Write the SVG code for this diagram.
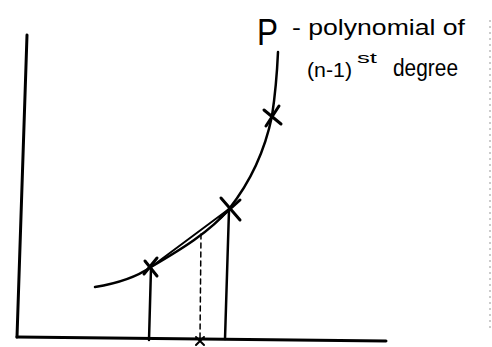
<svg xmlns="http://www.w3.org/2000/svg" width="492" height="347" viewBox="0 0 492 347">
<style>
.ln{fill:none;stroke:#000;stroke-linecap:round;stroke-linejoin:round}
.t{font-family:"Liberation Sans",Arial,sans-serif;fill:#000}
</style>
<rect width="492" height="347" fill="#fff"/>
<g id="axes">
<path class="ln" d="M27,35 L17,337" stroke-width="3"/>
<path class="ln" d="M17,337 L386,341" stroke-width="3"/>
</g>
<g id="curve">
<path class="ln" d="M95,287 C120,283 138,276 151,267 C180,250 210,232 229,209 C252,180 265,150 272,116 C275,96 277,75 278,52" stroke-width="2.5"/>
</g>
<g id="connectors">
<path class="ln" d="M151,267 L229,209" stroke-width="2"/>
<path class="ln" d="M151,268 L149,340" stroke-width="2.5"/>
<path class="ln" d="M229,210 L225,339" stroke-width="2.5"/>
<path class="ln" d="M201,234 L200,338" stroke-width="1.5" stroke-dasharray="5,4"/>
</g>
<g id="points">
<path class="ln" d="M145,261 L157,276 M157,258 L144,274" stroke-width="3"/>
<path class="ln" d="M221,198 L240,220 M240,200 L220,218" stroke-width="3"/>
<path class="ln" d="M264,110 L281,124 M279,106 L266,126" stroke-width="3"/>
<path class="ln" d="M196,337 L204,345 M204,337 L196,345" stroke-width="2"/>
</g>
<g id="label">
<text class="t" x="257" y="45" font-size="37" textLength="21" lengthAdjust="spacingAndGlyphs">P</text>
<text class="t" x="292" y="35" font-size="22" textLength="173" lengthAdjust="spacingAndGlyphs">- polynomial of</text>
<text class="t" x="307" y="77" font-size="20" textLength="45" lengthAdjust="spacingAndGlyphs">(n-1)</text>
<text class="t" x="357" y="63" font-size="15" textLength="20" lengthAdjust="spacingAndGlyphs">st</text>
<text class="t" x="393" y="76" font-size="23" textLength="65" lengthAdjust="spacingAndGlyphs">degree</text>
</g>
<path d="M490,20 L490,330" stroke="#999" stroke-width="1" stroke-dasharray="2,4"/>
</svg>
